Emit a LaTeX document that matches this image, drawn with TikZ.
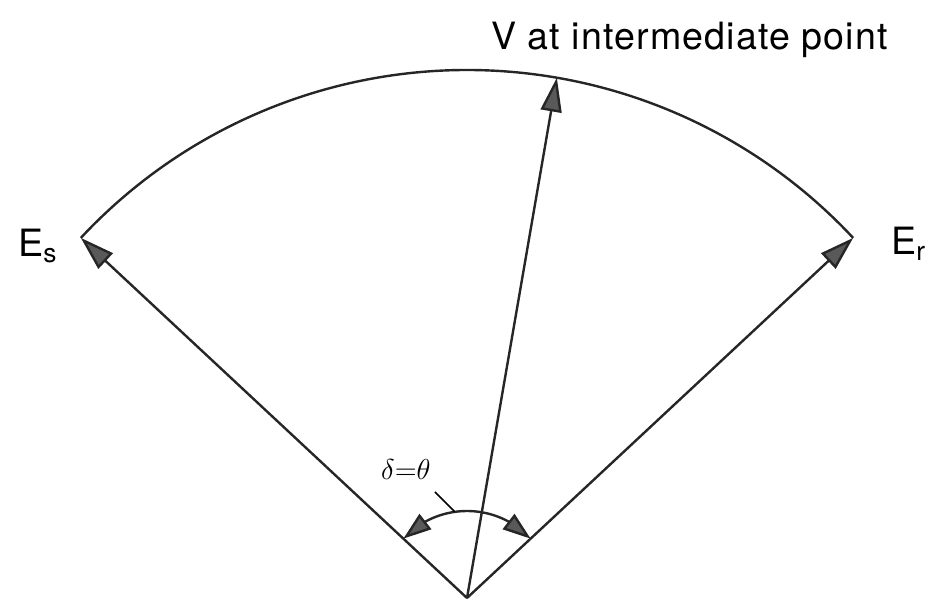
\documentclass[tikz,border=0pt]{standalone}
\usepackage{fontspec}
\setmainfont{TeX Gyre Heros}
\newfontfamily\spacedfont[LetterSpace=3]{TeX Gyre Heros}
\usepackage{tikz}
\usetikzlibrary{arrows.meta,bending}

\begin{document}
\begin{tikzpicture}[x=0.5pt, y=0.5pt, line width=1.2pt,
    vec/.style={-{Triangle[length=17pt, width=10.5pt, fill=black!65]}, draw=black!85},
    angle arrow/.style={{Triangle[length=14pt, width=9.5pt, fill=black!65]}-{Triangle[length=14pt, width=9.5pt, fill=black!65]}, draw=black!85},
    every node/.style={inner sep=0pt, font=\fontsize{18.8}{22}\selectfont}]
  \useasboundingbox (-467,-2) rectangle (460,598);
  \coordinate (O) at (0,0);
  \coordinate (Es) at (137:528);
  \coordinate (Er) at (43:528);
  \coordinate (V) at (80.2:528);
  % phasor circle
  \draw[draw=black!85] (Es) arc[start angle=137, end angle=43, radius=528];
  \draw[vec] (O) -- (Es);
  \draw[vec] (O) -- (Er);
  \draw[vec] (O) -- (V);
  % angle between sending and receiving end
  \draw[angle arrow] (137:87) arc[start angle=137, end angle=43, radius=87];
  \node[anchor=base west] (es) at (-450,341) {E\textsubscript{s}};
  \node[anchor=base west] (er) at (423,343) {E\textsubscript{r}};
  \node[anchor=base west] (v) at (23,548) {\spacedfont V at intermediate point};
  \node[anchor=base west, font=\fontsize{15}{18}\selectfont] (delta) at (-87,118) {$\delta{=}\theta$};
  \coordinate (lead) at (-32,106);
  \coordinate (tick) at (98:87);
  \draw[line width=0.8pt] (lead) -- (tick);
\end{tikzpicture}
\end{document}
